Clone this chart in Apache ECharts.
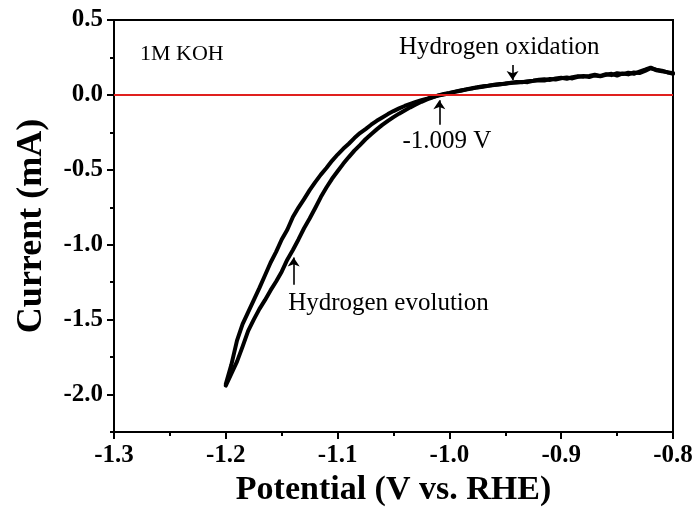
<!DOCTYPE html>
<html>
<head>
<meta charset="utf-8">
<title>Hydrogen evolution / oxidation in 1M KOH</title>
<script src="https://cdn.jsdelivr.net/npm/echarts@6/dist/echarts.min.js"></script>
<style>
  html, body { margin: 0; padding: 0; background: #fff; }
  #chart { width: 697px; height: 517px; }
</style>
</head>
<body>
<div id="chart"></div>
<script>
// Potential grid (V vs. RHE), 5 mV steps, shared by both sweeps
const potential = [
  -1.200, -1.195, -1.190, -1.185, -1.180, -1.175, -1.170, -1.165, -1.160, -1.155,
  -1.150, -1.145, -1.140, -1.135, -1.130, -1.125, -1.120, -1.115, -1.110, -1.105,
  -1.100, -1.095, -1.090, -1.085, -1.080, -1.075, -1.070, -1.065, -1.060, -1.055,
  -1.050, -1.045, -1.040, -1.035, -1.030, -1.025, -1.020, -1.015, -1.010, -1.005,
  -1.000, -0.995, -0.990, -0.985, -0.980, -0.975, -0.970, -0.965, -0.960, -0.955,
  -0.950, -0.945, -0.940, -0.935, -0.930, -0.925, -0.920, -0.915, -0.910, -0.905,
  -0.900, -0.895, -0.890, -0.885, -0.880, -0.875, -0.870, -0.865, -0.860, -0.855,
  -0.850, -0.845, -0.840, -0.835, -0.830, -0.825, -0.820, -0.815, -0.810, -0.805,
  -0.800
];

// Current (mA), sweep towards positive potentials (upper branch)
const currentSweepUp = [
  -1.930, -1.800, -1.640, -1.530, -1.450, -1.370, -1.290, -1.205, -1.120, -1.048,
  -0.965, -0.900, -0.815, -0.752, -0.695, -0.636, -0.582, -0.532, -0.488, -0.440,
  -0.398, -0.360, -0.326, -0.288, -0.255, -0.228, -0.199, -0.173, -0.151, -0.128,
  -0.108, -0.090, -0.074, -0.060, -0.047, -0.035, -0.025, -0.014, -0.005,  0.003,
   0.011,  0.020,  0.028,  0.036,  0.042,  0.050,  0.055,  0.061,  0.066,  0.070,
   0.076,  0.080,  0.083,  0.087,  0.085,  0.094,  0.098,  0.096,  0.106,  0.103,
   0.111,  0.117,  0.110,  0.121,  0.126,  0.119,  0.130,  0.124,  0.134,  0.141,
   0.129,  0.143,  0.137,  0.150,  0.146,  0.160,  0.178,  0.168,  0.162,  0.150,
   0.146
];

// Current (mA), sweep towards negative potentials (lower branch)
const currentSweepDown = [
  -1.940, -1.860, -1.780, -1.680, -1.575, -1.500, -1.430, -1.370, -1.305, -1.245,
  -1.180, -1.100, -1.035, -0.965, -0.890, -0.825, -0.755, -0.682, -0.618, -0.560,
  -0.510, -0.460, -0.415, -0.372, -0.335, -0.296, -0.262, -0.230, -0.200, -0.173,
  -0.148, -0.125, -0.104, -0.083, -0.064, -0.046, -0.030, -0.016, -0.003,  0.006,
   0.013,  0.022,  0.030,  0.037,  0.045,  0.051,  0.058,  0.062,  0.068,  0.073,
   0.075,  0.082,  0.086,  0.084,  0.092,  0.095,  0.101,  0.104,  0.100,  0.110,
   0.114,  0.108,  0.118,  0.124,  0.122,  0.127,  0.135,  0.127,  0.138,  0.132,
   0.145,  0.139,  0.148,  0.141,  0.155,  0.168,  0.182,  0.165,  0.158,  0.152,
   0.140
];

// Axis tick labels
const xTickValues = [-1.3, -1.2, -1.1, -1.0, -0.9, -0.8];
const yTickValues = [-2.0, -1.5, -1.0, -0.5, 0.0, 0.5];

// Text annotations and their arrows, in data coordinates
const notes = [
  { text: '1M KOH',             at: [-1.2768, 0.27],  align: 'left',   size: 22 },
  { text: 'Hydrogen oxidation', at: [-0.9554, 0.317], align: 'center', size: 25 },
  { text: '-1.009 V',           at: [-1.0022, -0.31], align: 'center', size: 25 },
  { text: 'Hydrogen evolution', at: [-1.0545, -1.39], align: 'center', size: 25 }
];
const arrows = [
  { from: [-0.9435, 0.20],   to: [-0.9435, 0.10]   },
  { from: [-1.009, -0.20],   to: [-1.009, -0.035]  },
  { from: [-1.1393, -1.267], to: [-1.1393, -1.085] }
];

const serif = '"Liberation Serif", "Times New Roman", serif';

const pair = (xs, ys) => xs.map((x, i) => [x, ys[i]]);

const chart = echarts.init(document.getElementById('chart'), null, { renderer: 'canvas' });

const curveStyle = { color: '#000', width: 4, cap: 'round', join: 'round' };

chart.setOption({
  animation: false,
  backgroundColor: '#fff',
  grid: {
    left: 114, right: 24, top: 20, bottom: 85,
    show: true, borderColor: '#000', borderWidth: 2, backgroundColor: 'transparent'
  },
  xAxis: {
    type: 'value',
    min: -1.3, max: -0.8, interval: 0.1,
    axisLine: { show: true, onZero: false, lineStyle: { color: '#000', width: 2 } },
    axisTick: { show: true, inside: false, length: 7, lineStyle: { color: '#000', width: 2 } },
    minorTick: { show: true, splitNumber: 2, length: 4, lineStyle: { color: '#000', width: 2 } },
    axisLabel: {
      formatter: v => v.toFixed(1),
      fontFamily: serif, fontWeight: 'bold', fontSize: 25, color: '#000', margin: 11
    },
    splitLine: { show: false },
    name: 'Potential (V vs. RHE)',
    nameLocation: 'middle',
    nameGap: 38,
    nameTextStyle: { fontFamily: serif, fontWeight: 'bold', fontSize: 34, color: '#000' }
  },
  yAxis: [
    {
      type: 'value',
      position: 'left',
      min: -2.25, max: 0.5, interval: 0.25,
      axisLine: { show: true, onZero: false, lineStyle: { color: '#000', width: 2 } },
      axisTick: { show: true, inside: false, length: 7, customValues: yTickValues,
                  lineStyle: { color: '#000', width: 2 } },
      axisLabel: {
        customValues: yTickValues,
        formatter: v => v.toFixed(1),
        fontFamily: serif, fontWeight: 'bold', fontSize: 25, color: '#000', margin: 11
      },
      splitLine: { show: false },
      name: 'Current (mA)',
      nameLocation: 'middle',
      nameGap: 64,
      nameTextStyle: { fontFamily: serif, fontWeight: 'bold', fontSize: 36, color: '#000' }
    },
    {
      // minor ticks every 0.25 mA
      type: 'value',
      position: 'left',
      min: -2.25, max: 0.5, interval: 0.25,
      axisLine: { show: false },
      axisTick: { show: true, inside: false, length: 4, lineStyle: { color: '#000', width: 2 } },
      axisLabel: { show: false },
      splitLine: { show: false }
    }
  ],
  series: [
    {
      name: 'zero',
      type: 'line',
      data: [],
      z: 1,
      markLine: {
        silent: true,
        symbol: ['none', 'none'],
        label: { show: false },
        lineStyle: { color: '#e0201e', width: 2, type: 'solid' },
        data: [{ yAxis: 0 }]
      }
    },
    {
      name: 'sweep up',
      type: 'line',
      data: pair(potential, currentSweepUp),
      showSymbol: false,
      z: 3,
      lineStyle: curveStyle
    },
    {
      name: 'sweep down',
      type: 'line',
      data: pair(potential, currentSweepDown),
      showSymbol: false,
      z: 3,
      lineStyle: curveStyle
    },
    {
      name: 'notes',
      type: 'scatter',
      symbolSize: 0,
      silent: true,
      z: 4,
      itemStyle: { opacity: 1 },
      data: notes.map(n => ({
        value: n.at,
        label: {
          show: true,
          position: 'inside',
          formatter: n.text,
          align: n.align,
          verticalAlign: 'middle',
          fontFamily: serif,
          fontSize: n.size,
          color: '#000'
        }
      })),
      markLine: {
        silent: true,
        symbol: ['none', 'arrow'],
        symbolSize: 9,
        label: { show: false },
        lineStyle: { color: '#000', width: 1.6, type: 'solid', opacity: 1 },
        data: arrows.map(a => [{ coord: a.from }, { coord: a.to }])
      }
    }
  ]
});
</script>
</body>
</html>
